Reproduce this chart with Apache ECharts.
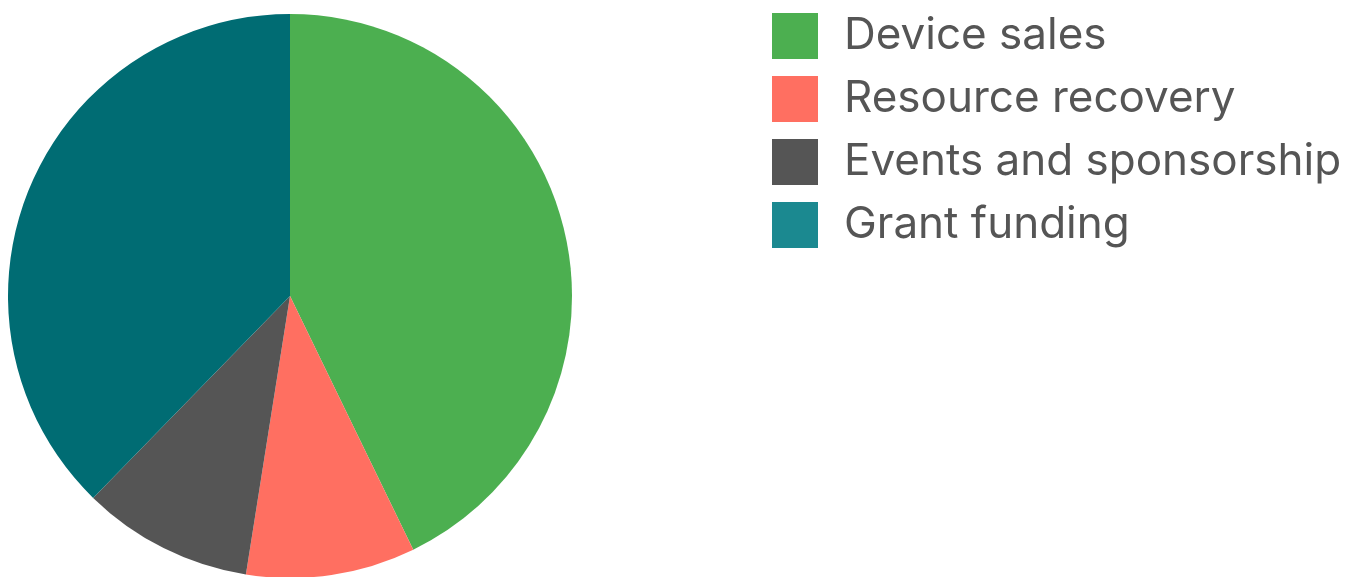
<!DOCTYPE html>
<html>
<head>
<meta charset="utf-8">
<script src="https://cdn.jsdelivr.net/npm/echarts@6/dist/echarts.min.js"></script>
<style>
    html, body { margin: 0; padding: 0; background: #fff; }
    /* chart fills the window */
    #chart { width: 1365px; height: 577px; }
</style>
</head>
<body>
<div id="chart"></div>
<script>
    // revenue share by source (percent)
    var categories = ['Device sales', 'Resource recovery', 'Events and sponsorship', 'Grant funding'];
    var shares = [42.8, 9.7, 9.8, 37.7];
    var sliceColors = ['#4CAF50', '#FF6F61', '#555555', '#006C73'];
    var legendColors = ['#4CAF50', '#FF6F61', '#555555', '#1B8990'];

    var myChart = echarts.init(document.getElementById('chart'));

    var pieData = categories.map(function (name, i) {
        return { name: name, value: shares[i], itemStyle: { color: sliceColors[i] } };
    });
    var legendData = categories.map(function (name, i) {
        return { name: name, itemStyle: { color: legendColors[i] } };
    });

    var option = {
        animation: false,
        legend: {
            orient: 'vertical',
            left: 767,
            top: 8,
            icon: 'rect',
            itemWidth: 46,
            itemHeight: 46,
            itemGap: 17,
            data: legendData,
            textStyle: {
                color: '#555555',
                fontSize: 44,
                lineHeight: 46,
                fontFamily: 'Inter',
                padding: [0, 0, 0, 21]
            }
        },
        series: [{
            type: 'pie',
            center: [290, 296],
            radius: 282,
            startAngle: 90,
            clockwise: true,
            label: { show: false },
            labelLine: { show: false },
            itemStyle: { borderWidth: 0 },
            emphasis: { disabled: true },
            data: pieData
        }]
    };
    myChart.setOption(option);
</script>
</body>
</html>
